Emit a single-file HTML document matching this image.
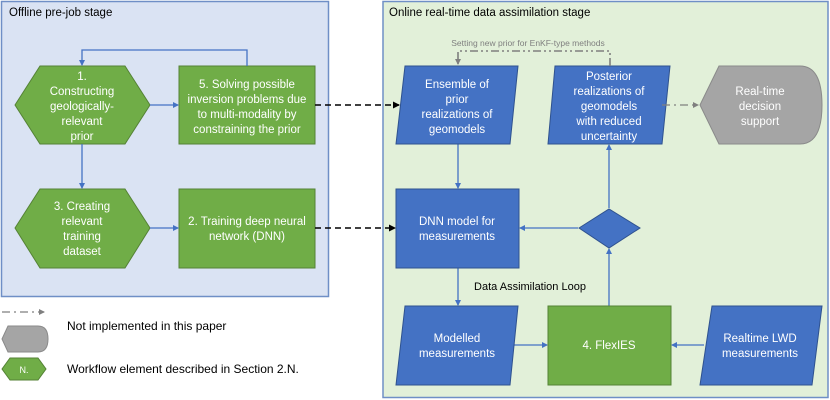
<!DOCTYPE html>
<html><head><meta charset="utf-8"><style>
html,body{margin:0;padding:0;background:#fff;}
svg{display:block;font-family:"Liberation Sans",sans-serif;}
.w{fill:#fff;font-size:11.5px;text-anchor:middle;}
</style></head><body>
<svg width="830" height="400" viewBox="0 0 830 400" xmlns="http://www.w3.org/2000/svg">
<defs>
<marker id="ab" markerWidth="6" markerHeight="6" refX="5" refY="3" orient="auto" markerUnits="userSpaceOnUse"><path d="M0,0 L6,3 L0,6z" fill="#4472c4"/></marker>
<marker id="ak" markerWidth="7" markerHeight="7" refX="6" refY="3.5" orient="auto" markerUnits="userSpaceOnUse"><path d="M0,0 L7,3.5 L0,7z" fill="#000"/></marker>
<marker id="ag" markerWidth="6" markerHeight="6" refX="5" refY="3" orient="auto" markerUnits="userSpaceOnUse"><path d="M0,0 L6,3 L0,6z" fill="#7f7f7f"/></marker>
</defs>
<rect x="1.5" y="1.5" width="327" height="295" fill="#dae3f3" stroke="#6f8fc6" stroke-width="1.5"/>
<rect x="383" y="1.5" width="445" height="396" fill="#e2f0d9" stroke="#6f8fc6" stroke-width="1.5"/>
<text x="9" y="16" font-size="11.5" fill="#000">Offline pre-job stage</text>
<text x="389" y="16" font-size="11.5" fill="#000">Online real-time data assimilation stage</text>

<!-- left nodes -->
<polygon points="15,105 40,66 125,66 150,105 125,144 40,144" fill="#70ad47" stroke="#548235"/>
<text class="w"><tspan x="82" y="80">1.</tspan><tspan x="82" y="95">Constructing</tspan><tspan x="82" y="110">geologically-</tspan><tspan x="82" y="125">relevant</tspan><tspan x="82" y="140">prior</tspan></text>
<rect x="179" y="66" width="136" height="78" fill="#70ad47" stroke="#548235"/>
<text class="w"><tspan x="247" y="88">5. Solving possible</tspan><tspan x="247" y="103">inversion problems due</tspan><tspan x="247" y="118">to multi-modality by</tspan><tspan x="247" y="133">constraining the prior</tspan></text>
<polygon points="15,228 40,189 125,189 150,228 125,268 40,268" fill="#70ad47" stroke="#548235"/>
<text class="w"><tspan x="82" y="210">3. Creating</tspan><tspan x="82" y="225">relevant</tspan><tspan x="82" y="240">training</tspan><tspan x="82" y="255">dataset</tspan></text>
<rect x="179" y="189" width="136" height="79" fill="#70ad47" stroke="#548235"/>
<text class="w"><tspan x="247" y="225">2. Training deep neural</tspan><tspan x="247" y="240">network (DNN)</tspan></text>

<g stroke="#4472c4" stroke-width="1.3" fill="none">
<polyline points="247,66 247,50 82,50 82,65" marker-end="url(#ab)"/>
<line x1="150" y1="105" x2="178" y2="105" marker-end="url(#ab)"/>
<line x1="82" y1="144" x2="82" y2="188" marker-end="url(#ab)"/>
<line x1="150" y1="228" x2="178" y2="228" marker-end="url(#ab)"/>
<line x1="458" y1="144" x2="458" y2="188" marker-end="url(#ab)"/>
<line x1="578" y1="228" x2="520" y2="228" marker-end="url(#ab)"/>
<line x1="609" y1="208" x2="609" y2="145" marker-end="url(#ab)"/>
<line x1="458" y1="268" x2="458" y2="305" marker-end="url(#ab)"/>
<line x1="609" y1="306" x2="609" y2="249" marker-end="url(#ab)"/>
<line x1="514" y1="345" x2="547" y2="345" marker-end="url(#ab)"/>
<line x1="704" y1="345" x2="672" y2="345" marker-end="url(#ab)"/>
</g>
<g stroke="#000" stroke-width="1.6" stroke-dasharray="6,4" fill="none">
<line x1="315" y1="105" x2="399" y2="105" marker-end="url(#ak)"/>
<line x1="315" y1="228" x2="395" y2="228" marker-end="url(#ak)"/>
</g>

<!-- right nodes -->
<polygon points="405,66 518,66 510,144 396,144" fill="#4472c4" stroke="#2f528f"/>
<text class="w"><tspan x="457" y="88">Ensemble of</tspan><tspan x="457" y="103">prior</tspan><tspan x="457" y="118">realizations of</tspan><tspan x="457" y="133">geomodels</tspan></text>
<polygon points="555,66 670,66 662,144 548,144" fill="#4472c4" stroke="#2f528f"/>
<text class="w"><tspan x="609" y="80">Posterior</tspan><tspan x="609" y="95">realizations of</tspan><tspan x="609" y="110">geomodels</tspan><tspan x="609" y="125">with reduced</tspan><tspan x="609" y="140">uncertainty</tspan></text>
<path d="M700,105 L719,66 L800,66 Q822,66 822,105 Q822,144 800,144 L719,144 Z" fill="#a5a5a5" stroke="#8a8a8a"/>
<text class="w"><tspan x="760" y="95">Real-time</tspan><tspan x="760" y="110">decision</tspan><tspan x="760" y="125">support</tspan></text>
<line x1="662" y1="105" x2="698" y2="105" stroke="#7f7f7f" stroke-width="1.3" stroke-dasharray="8,4,2,4" marker-end="url(#ag)"/>
<polyline points="610,66 610,51 458,51 458,64" fill="none" stroke="#7f7f7f" stroke-width="1.6" stroke-dasharray="8,3,2,3,2,3" marker-end="url(#ag)"/>
<text x="528" y="46" font-size="8.5" fill="#7f7f7f" text-anchor="middle">Setting new prior for EnKF-type methods</text>

<rect x="396" y="189" width="123" height="79" fill="#4472c4" stroke="#2f528f"/>
<text class="w"><tspan x="457" y="225">DNN model for</tspan><tspan x="457" y="240">measurements</tspan></text>
<polygon points="579,228 609,209 640,228 609,248" fill="#4472c4" stroke="#2f528f"/>
<text x="530" y="290" font-size="11" fill="#000" text-anchor="middle">Data Assimilation Loop</text>

<polygon points="405,306 518,306 510,385 396,385" fill="#4472c4" stroke="#2f528f"/>
<text class="w"><tspan x="457" y="342">Modelled</tspan><tspan x="457" y="357">measurements</tspan></text>
<rect x="548" y="306" width="123" height="79" fill="#70ad47" stroke="#548235"/>
<text class="w" x="609" y="349">4. FlexIES</text>
<polygon points="712,306 822,306 812,385 700,385" fill="#4472c4" stroke="#2f528f"/>
<text class="w"><tspan x="760" y="342">Realtime LWD</tspan><tspan x="760" y="357">measurements</tspan></text>

<!-- legend -->
<line x1="2" y1="312" x2="44" y2="312" stroke="#7f7f7f" stroke-width="1.3" stroke-dasharray="8,4,2,4" marker-end="url(#ag)"/>
<path d="M2,339 L8,326 L38,326 Q48,326 48,339 Q48,352 38,352 L8,352 Z" fill="#a5a5a5" stroke="#8a8a8a"/>
<text x="67" y="330" font-size="12" fill="#000">Not implemented in this paper</text>
<polygon points="2,369 10,358 38,358 46,369 38,380 10,380" fill="#70ad47" stroke="#548235"/>
<text x="24" y="373" font-size="9" fill="#fff" text-anchor="middle">N.</text>
<text x="67" y="373" font-size="12" fill="#000">Workflow element described in Section 2.N.</text>
</svg>
</body></html>
